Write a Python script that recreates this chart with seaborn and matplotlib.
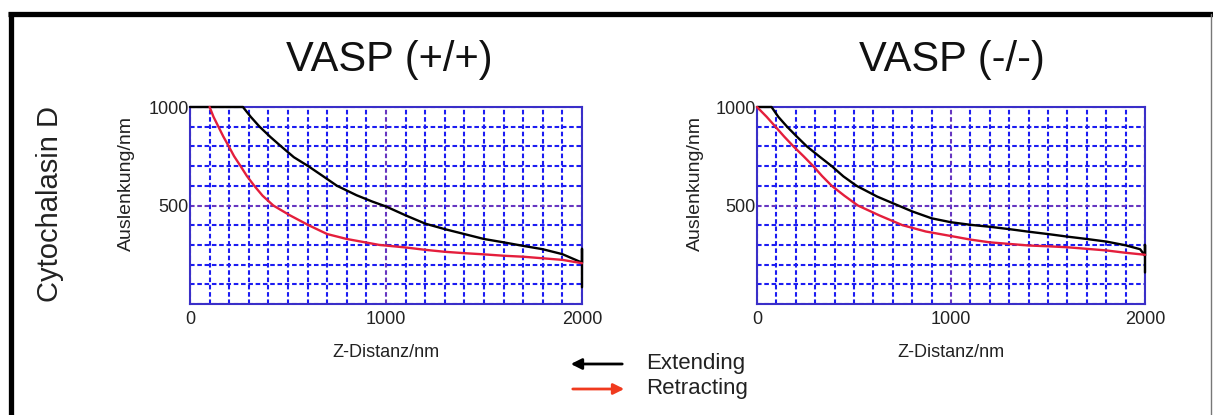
import numpy as np
import pandas as pd
import seaborn as sns
from matplotlib import pyplot as plt
from matplotlib.lines import Line2D
from matplotlib.patches import FancyArrowPatch
from matplotlib.ticker import MultipleLocator

# VASP (+/+), Cytochalasin D
pp_ext_x = [2000, 2000, 2000, 1900, 1800, 1700, 1600, 1500, 1400, 1300, 1200, 1100, 1000,
            930, 850, 750, 680, 603, 530, 465, 410, 355, 310, 270, 0]
pp_ext_y = [85, 280, 210, 253, 278, 295, 313, 330, 355, 380, 408, 450, 495,
            520, 552, 600, 648, 700, 745, 800, 848, 900, 950, 1000, 1000]
pp_ret_x = [100, 120, 145, 170, 198, 225, 258, 290, 328, 370, 425, 510, 605, 700, 800,
            965, 1100, 1200, 1300, 1400, 1500, 1600, 1700, 1800, 1900, 2000]
pp_ret_y = [1000, 950, 900, 850, 800, 750, 700, 650, 600, 550, 500, 450, 400, 355, 330,
            300, 287, 275, 265, 258, 252, 245, 240, 232, 224, 207]

# VASP (-/-), Cytochalasin D
mm_ext_x = [2000, 2000, 2000, 1975, 1900, 1800, 1700, 1600, 1500, 1400, 1300, 1200, 1100,
            1000, 900, 800, 728, 620, 513, 445, 385, 320, 257, 205, 155, 110, 75, 0]
mm_ext_y = [160, 300, 245, 278, 298, 317, 330, 342, 355, 367, 380, 392, 402,
            415, 435, 470, 500, 545, 600, 648, 700, 750, 800, 850, 900, 950, 1000, 1000]
mm_ret_x = [0, 50, 95, 140, 188, 240, 290, 335, 385, 450, 520, 630, 750, 870,
            1000, 1100, 1200, 1300, 1400, 1500, 1600, 1700, 1800, 1900, 2000]
mm_ret_y = [1000, 950, 900, 850, 800, 750, 700, 650, 600, 550, 500, 450, 400, 368,
            345, 327, 313, 305, 297, 293, 288, 280, 272, 260, 250]

titles = ['VASP (+/+)', 'VASP (-/-)']
row_label = 'Cytochalasin D'
legend_labels = ['Extending', 'Retracting']

BLUE = '#1c1cf2'
PURPLE = '#6636c0'
FRAME = '#3a2fc8'
RED = '#e41e3c'

sns.set_style('white')
plt.rcParams['font.family'] = ['Liberation Sans', 'DejaVu Sans']

W, H = 1213, 415
fig = plt.figure(figsize=(W / 100, H / 100), dpi=100)


def make_df(ex, ey, rx, ry):
    d1 = pd.DataFrame({'x': ex, 'y': ey, 'Richtung': 'Extending'})
    d2 = pd.DataFrame({'x': rx, 'y': ry, 'Richtung': 'Retracting'})
    return pd.concat([d1, d2], ignore_index=True)


panels = [
    (make_df(pp_ext_x, pp_ext_y, pp_ret_x, pp_ret_y), 190, 582, 389, 135),
    (make_df(mm_ext_x, mm_ext_y, mm_ret_x, mm_ret_y), 757, 1145, 952, 704),
]

for i, (df, x0, x1, tx, ylab_x) in enumerate(panels):
    ax = fig.add_axes([x0 / W, 1 - 304 / H, (x1 - x0) / W, 197 / H])
    ax.set_xlim(0, 2000)
    ax.set_ylim(0, 1000)
    ax.xaxis.set_major_locator(MultipleLocator(1000))
    ax.xaxis.set_minor_locator(MultipleLocator(100))
    ax.yaxis.set_major_locator(MultipleLocator(500))
    ax.yaxis.set_minor_locator(MultipleLocator(100))
    ax.grid(which='minor', color=BLUE, linestyle=(0, (2.2, 1.3)), linewidth=1.5)
    ax.grid(which='major', color=PURPLE, linestyle=(0, (2.2, 1.3)), linewidth=1.5)
    ax.set_axisbelow(True)
    sns.lineplot(data=df, x='x', y='y', hue='Richtung', palette={'Extending': 'black', 'Retracting': RED},
                 sort=False, estimator=None, legend=False, linewidth=1.7, ax=ax, zorder=3,
                 clip_on=False)
    ax.set_yticks([0, 500, 1000], ['', '500', '1000'])
    ax.tick_params(which='both', length=0, labelsize=13, colors='#222222')
    ax.tick_params(axis='y', pad=1)
    ax.tick_params(axis='x', pad=5)
    for s in ax.spines.values():
        s.set_color(FRAME)
        s.set_linewidth(1.5)
        s.set_zorder(2.5)
    ax.set_xlabel('Z-Distanz/nm', fontsize=13, color='#222222')
    ax.set_ylabel('Auslenkung/nm', fontsize=14, color='#222222')
    ax.xaxis.set_label_coords(0.5, -0.205)
    ax.yaxis.set_label_coords((ylab_x - x0) / (x1 - x0), 0.61)
    fig.text(tx / W, 1 - 60 / H, titles[i], fontsize=30, ha='center', va='center', color='#111111')

fig.text(50 / W, 1 - 204 / H, row_label, fontsize=21, rotation=90, ha='center', va='center',
         color='#222222')

# legend arrows
fig.add_artist(FancyArrowPatch((625 / W, 1 - 364 / H), (568 / W, 1 - 364 / H), transform=fig.transFigure,
                               arrowstyle='-|>', mutation_scale=16, color='black', lw=2))
fig.add_artist(FancyArrowPatch((570 / W, 1 - 389 / H), (627 / W, 1 - 389 / H), transform=fig.transFigure,
                               arrowstyle='-|>', mutation_scale=16, color='#f03a1e', lw=2))
fig.text(646 / W, 1 - 363 / H, legend_labels[0], fontsize=16, ha='left', va='center', color='#222222')
fig.text(646 / W, 1 - 388 / H, legend_labels[1], fontsize=16, ha='left', va='center', color='#222222')

# frame of the panel
fig.add_artist(Line2D([8 / W, 1], [1 - 14.5 / H] * 2, transform=fig.transFigure, color='black', lw=3.8,
                      solid_capstyle='butt'))
fig.add_artist(Line2D([10.5 / W] * 2, [0, 1 - 12.5 / H], transform=fig.transFigure, color='black', lw=3.8,
                      solid_capstyle='butt'))
fig.add_artist(Line2D([1211 / W] * 2, [0, 1 - 14 / H], transform=fig.transFigure, color='#777777', lw=1))

fig.savefig('out.png', dpi=100, facecolor='white')
